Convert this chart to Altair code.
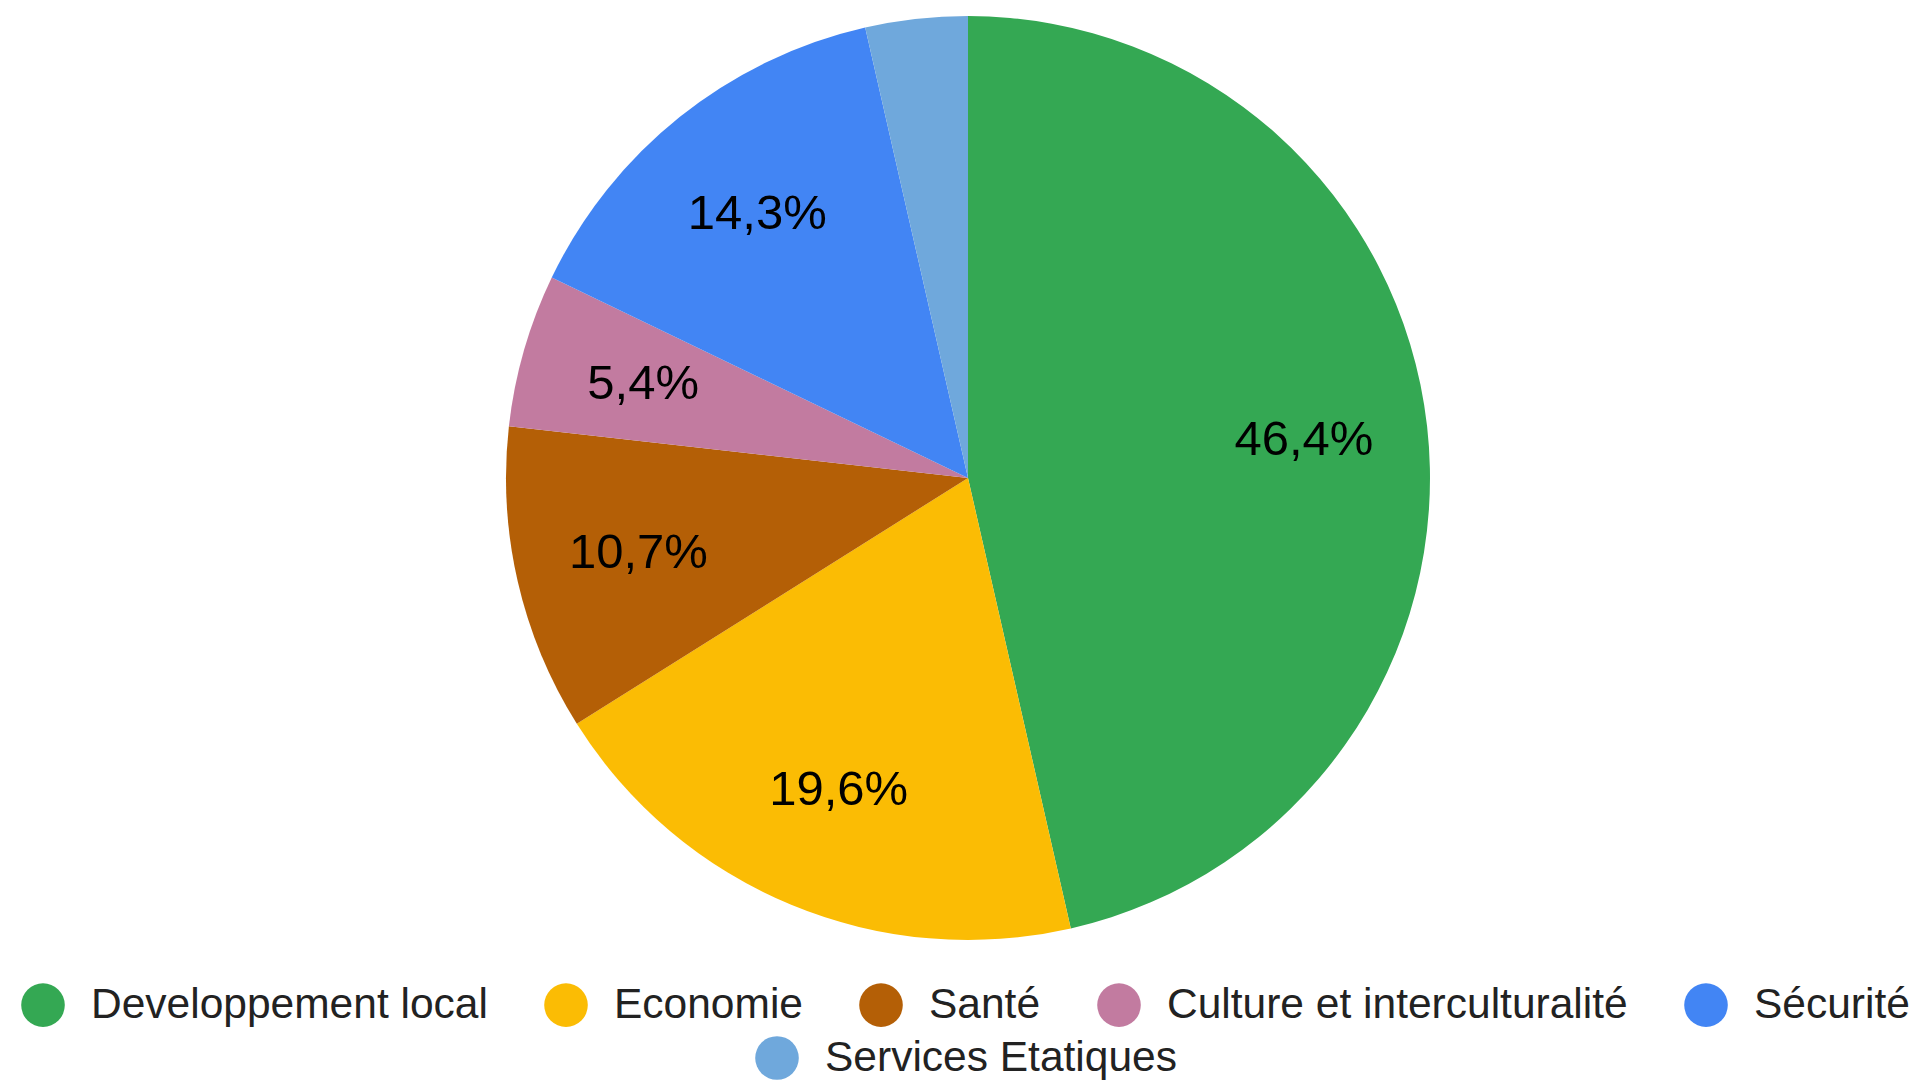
import altair as alt
import pandas as pd

categories = ["Developpement local", "Economie", "Santé",
              "Culture et interculturalité", "Sécurité", "Services Etatiques"]
counts = [26, 11, 6, 3, 8, 2]
colors = ["#34a853", "#fbbc04", "#b45f06", "#c27ba0", "#4285f4", "#6fa8dc"]
order_idx = [0, 1, 2, 3, 4, 5]

df = pd.DataFrame({"cat": categories, "n": counts, "idx": order_idx})

FONT = "Liberation Sans"

base = alt.Chart(df).transform_joinaggregate(total="sum(n)").transform_calculate(
    label="datum.n / datum.total >= 0.05 ? replace(format(datum.n / datum.total * 100, '.1f'), '.', ',') + '%' : ''"
)

legend_common = dict(
    orient="none", direction="horizontal", title=None, padding=0,
    labelFont=FONT, labelFontSize=42.5, labelColor="#222222", labelLimit=0,
    symbolType="circle", symbolSize=1900, symbolStrokeWidth=0,
    labelOffset=26, columnPadding=56, symbolOpacity=1,
)

arcs = base.mark_arc(outerRadius=462).encode(
    theta=alt.Theta("n:Q", stack=True),
    order=alt.Order("idx:Q"),
    color=alt.Color("cat:N", scale=alt.Scale(domain=categories, range=colors),
                    legend=alt.Legend(values=categories[:5], columns=5,
                                      legendX=-2, legendY=975, **legend_common)),
)

labels = base.mark_text(radius=338, fontSize=49, font=FONT, color="#000000",
                        baseline="middle", align="center").encode(
    theta=alt.Theta("n:Q", stack=True),
    order=alt.Order("idx:Q"),
    text="label:N",
)

extra = alt.Chart(df).transform_filter(
    alt.datum.cat == categories[5]
).mark_circle(opacity=0, size=1).encode(
    fill=alt.Fill("cat:N", scale=alt.Scale(domain=[categories[5]], range=[colors[5]]),
                  legend=alt.Legend(columns=1, legendX=732, legendY=1028, **legend_common)),
)

chart = alt.layer(arcs, labels, extra).resolve_scale(color="independent").properties(
    width=1890, height=940,
    padding={"left": 15, "top": 0, "right": 0, "bottom": 133},
    autosize="none",
).configure_view(stroke=None)

chart.save("out.html", embed_options={"renderer": "svg", "actions": False})
